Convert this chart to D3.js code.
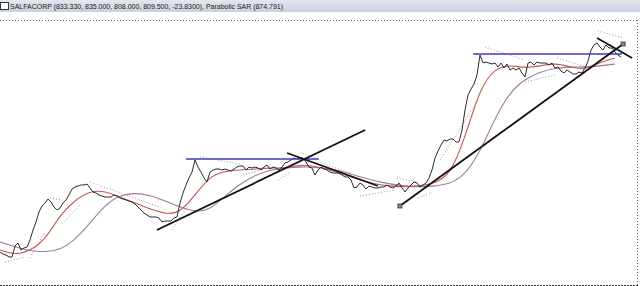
<!DOCTYPE html>
<html lang="en">
<head>
    <meta charset="utf-8">
    <title>SALFACORP</title>
    <script src="https://d3js.org/d3.v7.min.js"></script>
    <style>
        html, body { margin: 0; padding: 0; background: #fff; }
        svg { display: block; }
        .title-text { font-family: "Liberation Sans", Arial, sans-serif; font-size: 8px; fill: #1a1a1a; }
    </style>
</head>
<body>
<div id="chart"></div>
<script>
// Close prices, one per bar
const closes = [
    322, 317, 314.5, 309.5, 309.5, 337, 344.5, 327, 332, 334.5,
    352, 377, 397, 422, 437, 444.5, 454.5, 447, 434.5, 427,
    432, 444.5, 452, 464.5, 479.5, 484.5, 487, 489.5, 489.5, 492,
    482, 472, 469.5, 464.5, 462, 459.5, 459.5, 459.5, 464.5, 462,
    457, 454.5, 452, 449.5, 447, 442, 434.5, 427, 419.5, 414.5,
    409.5, 409.5, 409.5, 407, 397, 399.5, 399.5, 399.5, 407, 409.5,
    444.5, 469.5, 489.5, 507, 522, 552, 534.5, 522, 507, 497,
    522, 527, 529.5, 529.5, 527, 529.5, 527, 524.5, 529.5, 534.5,
    537, 537, 527, 534.5, 532, 534.5, 532, 527, 534.5, 539.5,
    529.5, 534.5, 532, 527, 534.5, 544.5, 547, 552, 557, 554.5,
    557, 557, 547, 534.5, 532, 514.5, 527, 534.5, 529.5, 527,
    522, 519.5, 519.5, 519.5, 514.5, 509.5, 509.5, 502, 482, 484.5,
    494.5, 489.5, 479.5, 487, 484.5, 482, 482, 484.5, 484.5, 489.5,
    484.5, 482, 487, 494.5, 482, 472, 482, 489.5, 497, 494.5,
    484.5, 489.5, 494.5, 507, 527, 557, 574.5, 589.5, 602, 599.5,
    604.5, 604.5, 597, 597, 627, 677, 714.5, 729.5, 742, 764.5,
    814.5, 794.5, 797, 794.5, 792, 794.5, 784.5, 794.5, 782, 792,
    777, 782, 777, 782, 769.5, 759.5, 794.5, 797, 789.5, 797,
    794.5, 794.5, 794.5, 789.5, 794.5, 782, 784.5, 774.5, 769.5, 777,
    772, 767, 767, 772, 769.5, 782, 799.5, 827, 839.5, 844.5,
    834.5, 827, 839.5, 832, 832, 822, 814.5, 809.5
];

// Moving averages read every 5 bars: [bar, value]
const fastMA = [
    [0, 327], [5, 314.5], [10, 324.5], [15, 352], [20, 414.5], [25, 452], [30, 474.5],
    [35, 474.5], [40, 459.5], [45, 444.5], [50, 429.5], [55, 417], [60, 419.5], [65, 464.5],
    [70, 512], [75, 524.5], [80, 527], [85, 529.5], [90, 532], [95, 532], [100, 539.5],
    [105, 537], [110, 527], [115, 514.5], [120, 502], [125, 492], [130, 487], [135, 484.5],
    [140, 487], [145, 494.5], [150, 514.5], [155, 607], [160, 732], [165, 782], [170, 789.5],
    [175, 782], [180, 787], [185, 794.5], [190, 784.5], [195, 777], [200, 797], [205, 807]
];
const slowMA = [
    [0, 347], [5, 334.5], [10, 324.5], [15, 322], [20, 327], [25, 352], [30, 394.5],
    [35, 439.5], [40, 464.5], [45, 469.5], [50, 464.5], [55, 449.5], [60, 434.5], [65, 422],
    [70, 427], [75, 462], [80, 492], [85, 514.5], [90, 527], [95, 532], [100, 534.5],
    [105, 534.5], [110, 529.5], [115, 522], [120, 509.5], [125, 499.5], [130, 492], [135, 487],
    [140, 484.5], [145, 487], [150, 492], [155, 514.5], [160, 572], [165, 657], [170, 722],
    [175, 754.5], [180, 772], [185, 782], [190, 784.5], [195, 784.5], [200, 787], [205, 792]
];

// Parabolic SAR runs: [[bar, value], [bar, value]]
const sarRuns = [
    [[1.7, 297], [8.3, 309.5]], [[10, 307], [15, 372]], [[16.7, 457], [20.7, 452]],
    [[20.7, 392], [26.7, 439.5]], [[30, 497], [53.3, 434.5]], [[57.3, 377], [64, 452]],
    [[66.7, 559.5], [80, 542]], [[81, 514.5], [87.3, 527]], [[92.7, 502], [96.7, 522]],
    [[100, 572], [105, 557]], [[106, 547], [116.7, 519.5]], [[120, 462], [131.7, 477]],
    [[132.3, 507], [139, 497]], [[139.3, 457], [144, 472]], [[146.7, 552], [159.3, 702]],
    [[161.7, 834.5], [175, 802]], [[175, 747], [185, 764.5]], [[185.7, 807], [195.7, 784.5]],
    [[199.3, 874.8], [208, 857]]
];

// Drawn trend lines and resistance levels
const trendLines = [
    [[52.3, 377], [121.7, 627]],
    [[95.7, 569.5], [126, 487]],
    [[133.3, 437], [207.7, 842]],
    [[199, 857], [210.7, 807]]
];
const levelLines = [
    [[62, 554.5], [106.3, 554.5]],
    [[157.7, 817], [207.3, 817]]
];
const handles = [[133.3, 437], [207.7, 842]];

const titleText = "SALFACORP (833.330, 835.000, 808.000, 809.500, -23.8300), Parabolic SAR (874.791)";

const width = 640, height = 286;
const svg = d3.select("#chart").append("svg")
    .attr("width", width).attr("height", height);

const x = d3.scaleLinear().domain([0, closes.length - 1]).range([0, 621]);
const y = d3.scaleLinear().domain([242, 902]).range([284, 20]);

// title bar
const grad = svg.append("defs").append("linearGradient")
    .attr("id", "bar").attr("x1", 0).attr("y1", 0).attr("x2", 0).attr("y2", 1);
grad.append("stop").attr("offset", "0%").attr("stop-color", "#e3e8ee");
grad.append("stop").attr("offset", "100%").attr("stop-color", "#c9d1dc");
svg.append("rect").attr("x", 0).attr("y", 0).attr("width", width).attr("height", 12)
    .attr("fill", "url(#bar)");
svg.append("rect").attr("x", 0.5).attr("y", 2.5).attr("width", 8).attr("height", 7)
    .attr("fill", "#fff").attr("stroke", "#333").attr("stroke-width", 1);
svg.append("text").attr("class", "title-text")
    .attr("x", 10).attr("y", 9)
    .attr("textLength", 273).attr("lengthAdjust", "spacingAndGlyphs")
    .text(titleText);

// frame
svg.append("line").attr("x1", 0).attr("x2", 637).attr("y1", 20.5).attr("y2", 20.5)
    .attr("stroke", "#666").attr("stroke-dasharray", "1,2");
svg.append("line").attr("x1", 637.5).attr("x2", 637.5).attr("y1", 20).attr("y2", 285)
    .attr("stroke", "#666").attr("stroke-dasharray", "1,2");
svg.append("line").attr("x1", 0).attr("x2", 638).attr("y1", 285.5).attr("y2", 285.5)
    .attr("stroke", "#333").attr("stroke-dasharray", "2,1");

const g = svg.append("g");
const pairLine = d3.line().x(d => x(d[0])).y(d => y(d[1]));
const smoothLine = d3.line().x(d => x(d[0])).y(d => y(d[1])).curve(d3.curveBasis);

// SAR
sarRuns.forEach(run => {
    g.append("path").attr("d", pairLine(run))
        .attr("fill", "none").attr("stroke", "#9a9a9a")
        .attr("stroke-width", 1).attr("stroke-dasharray", "1,2");
});

// moving averages
g.append("path").attr("d", smoothLine(slowMA))
    .attr("fill", "none").attr("stroke", "#a07c9c").attr("stroke-width", 1.1);
g.append("path").attr("d", smoothLine(fastMA))
    .attr("fill", "none").attr("stroke", "#bd5a52").attr("stroke-width", 1.1);

// price
g.append("path").datum(closes)
    .attr("d", d3.line().x((d, i) => x(i)).y(d => y(d)))
    .attr("fill", "none").attr("stroke", "#2c2c2c").attr("stroke-width", 1);

// levels
levelLines.forEach(l => {
    g.append("path").attr("d", pairLine(l))
        .attr("fill", "none").attr("stroke", "#3c3cc0").attr("stroke-width", 1.6);
});

// trend lines
trendLines.forEach(l => {
    g.append("path").attr("d", pairLine(l))
        .attr("fill", "none").attr("stroke", "#111").attr("stroke-width", 1.8);
});
g.selectAll(".handle").data(handles).join("rect")
    .attr("class", "handle")
    .attr("x", d => x(d[0]) - 2).attr("y", d => y(d[1]) - 2)
    .attr("width", 4).attr("height", 4)
    .attr("fill", "#888").attr("stroke", "#333").attr("stroke-width", 0.8);
</script>
</body>
</html>
